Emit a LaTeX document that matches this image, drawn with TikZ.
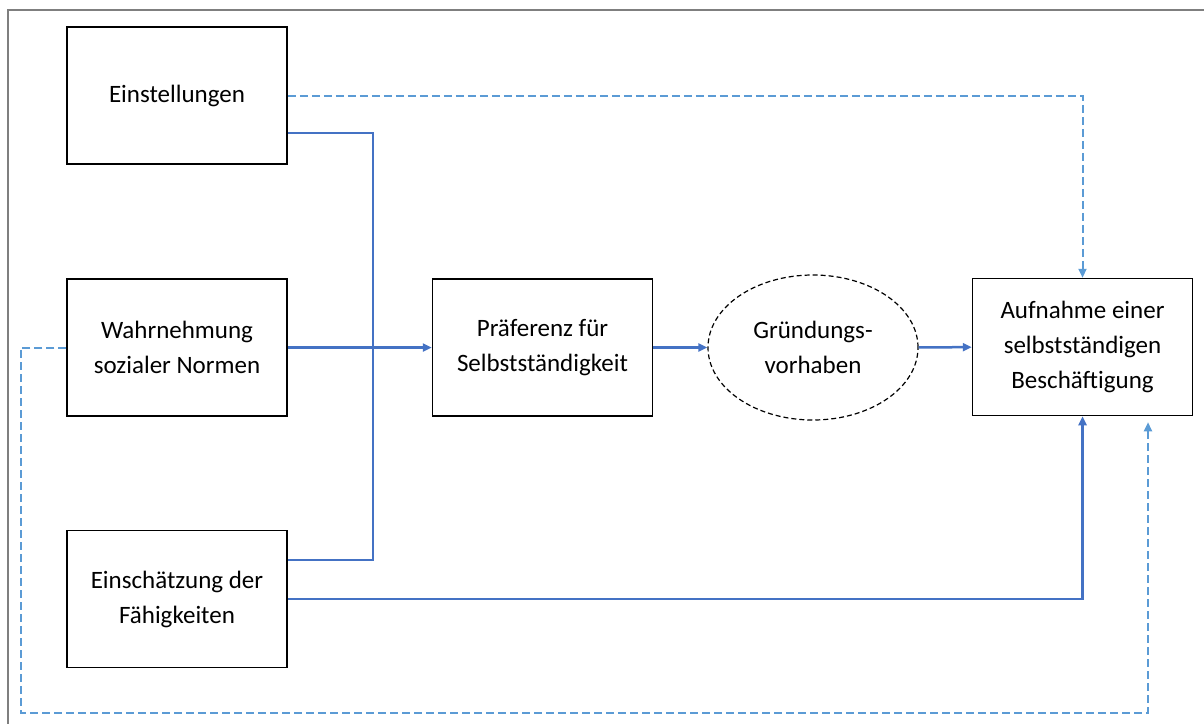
\documentclass[tikz,border=0pt]{standalone}
\usepackage{fontspec}
\setmainfont{Carlito}
\usepackage{tikz}
\usetikzlibrary{arrows.meta,shapes.geometric}
\definecolor{lineblue}{RGB}{68, 114, 196}
\definecolor{dashblue}{RGB}{91, 155, 213}
\definecolor{framegray}{RGB}{127, 127, 127}

\begin{document}
\begin{tikzpicture}[x=0.5pt, y=-0.5pt,
    box/.style={draw=black, line width=0.75pt, minimum width=110pt, minimum height=68.5pt,
      inner sep=0pt, align=center, font=\fontsize{12.5}{17.5}\selectfont},
    plan/.style={ellipse, draw=black, line width=0.6pt, dash pattern=on 2.5pt off 1.5pt,
      minimum width=105pt, minimum height=72.5pt, inner sep=0pt, align=center,
      font=\fontsize{12.5}{17.5}\selectfont},
    solidline/.style={draw=lineblue, line width=1.25pt},
    dashline/.style={draw=dashblue, line width=1pt, dash pattern=on 4pt off 2pt},
    tip/.style={-{Triangle[length=4.5pt,width=4pt]}}
  ]
      \useasboundingbox (0,0) rectangle (1204,724);
      % Frame: top and left edge only
      \draw[framegray, line width=1pt] (1204,10) -- (8,10) -- (8,724);
      % Left column: the three factors
      \foreach \name/\y/\txt in {
        einst/95.5/{Einstellungen},
        wahr/347.5/{Wahrnehmung\\sozialer Normen},
        einsch/599/{Einschätzung der\\Fähigkeiten}} {
          \node[box] (\name) at (177,\y) {\txt};
        }
      % Middle and right
      \node[box] (praef) at (542.5,347.5) {Präferenz für\\Selbstständigkeit};
      \node[plan] (gruend) at (813,347.5) {Gründungs-\\vorhaben};
      \node[box] (aufn) at (1082.5,347) {Aufnahme einer\\selbstständigen\\Beschäftigung};
      \coordinate (bus) at (373,347.5);
      \coordinate (loop) at (21,713);
      % solid connectors
      \draw[solidline] ([yshift=-18.75pt]einst.east) -| (bus) |- ([yshift=19.5pt]einsch.east);
      \draw[solidline, tip] (wahr) -- (praef);
      \draw[solidline, tip] (praef) -- (gruend);
      \draw[solidline, tip] (gruend) -- (aufn);
      \draw[solidline, tip] (einsch.east) -| (aufn.south);
      % dashed connectors
      \draw[dashline, tip] (einst.east) -| (aufn.north);
      \draw[dashline, tip] (wahr.west) -| (loop) -| ([xshift=32.75pt,yshift=-3pt]aufn.south);
    \end{tikzpicture}
\end{document}
